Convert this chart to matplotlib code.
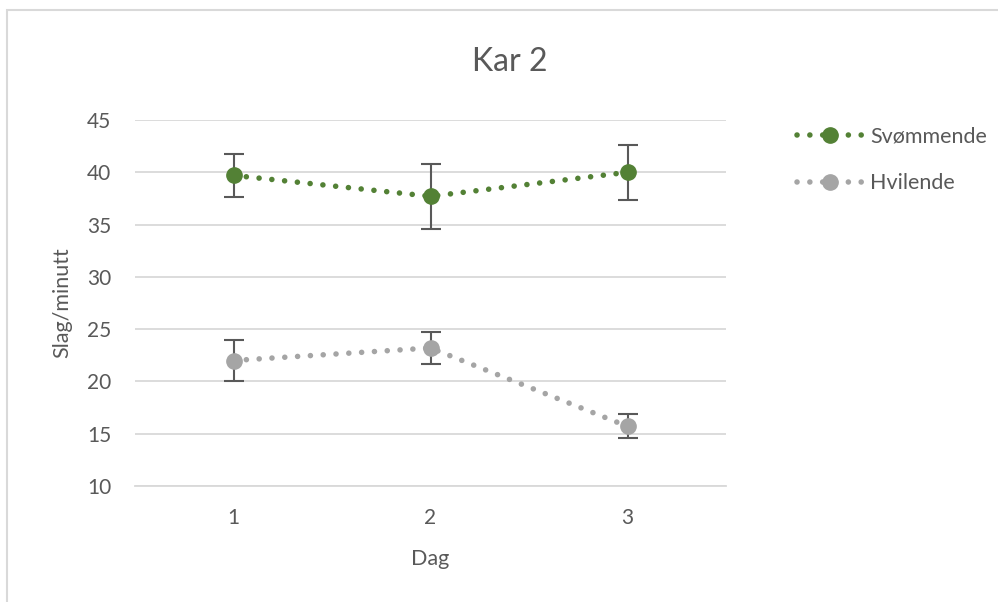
import matplotlib.pyplot as plt
from matplotlib.patches import Rectangle

plt.rcParams['font.family'] = ['Lato', 'DejaVu Sans']

# data
dag = [1, 2, 3]
dag_labels = ['1', '2', '3']
svommende = [39.7, 37.7, 40.0]
svommende_err = [2.05, 3.1, 2.65]
hvilende = [22.0, 23.2, 15.7]
hvilende_err = [2.0, 1.55, 1.15]

green = '#538135'
grey = '#A5A5A5'
txt = '#595959'

fig = plt.figure(figsize=(9.98, 6.02), dpi=100)
# ramme rundt diagrammet
fig.patches.append(Rectangle((0.007, -0.01), 1.2, 0.993, transform=fig.transFigure,
                             fill=False, edgecolor='#D9D9D9', linewidth=1.5))

ax = fig.add_axes([0.1353, 0.1927, 0.5922, 0.608])

dots = (0, (0.01, 2.3))
for y, e, c, lab in [(svommende, svommende_err, green, 'Svømmende'),
                     (hvilende, hvilende_err, grey, 'Hvilende')]:
    ax.errorbar(dag, y, yerr=e, fmt='none', ecolor=txt, elinewidth=1.5,
                capsize=7, capthick=1.5, zorder=3)
    ax.plot(dag, y, color=c, linestyle=dots, linewidth=4, dash_capstyle='round',
            marker='o', markersize=11, label=lab, zorder=4)

ax.set_xlim(0.5, 3.5)
ax.set_ylim(10, 45)
ax.set_yticks(range(10, 46, 5))
ax.set_xticks(dag)
ax.set_xticklabels(dag_labels)
ax.grid(axis='y', color='#D9D9D9', linewidth=1.3)
ax.set_axisbelow(True)
for s in ['top', 'right', 'left']:
    ax.spines[s].set_visible(False)
ax.spines['bottom'].set_color('#D9D9D9')
ax.spines['bottom'].set_linewidth(1.3)
ax.tick_params(length=0, labelsize=15, labelcolor=txt)
ax.tick_params(axis='x', pad=16)
ax.tick_params(axis='y', pad=17)

ax.set_xlabel('Dag', fontsize=15.5, color=txt, labelpad=15)
ax.set_ylabel('Slag/minutt', fontsize=15.5, color=txt, labelpad=11)
fig.text(0.511, 0.897, 'Kar 2', fontsize=23, color=txt, ha='center', va='center')

fig.legend(loc='upper left', bbox_to_anchor=(0.779, 0.822), frameon=False,
           fontsize=15.5, labelcolor=txt, handlelength=3.1, labelspacing=1.25,
           handletextpad=0.3)

fig.savefig('out.png', dpi=100)
